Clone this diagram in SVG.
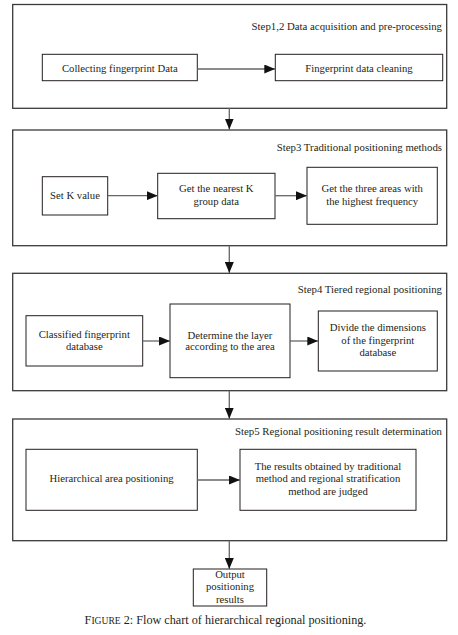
<svg xmlns="http://www.w3.org/2000/svg" width="458" height="635" viewBox="0 0 458 635">
<style>
.frame{fill:#fff;stroke:#3a3a3a;stroke-width:1.3}
.box{fill:#fff;stroke:#231f20;stroke-width:1}
.t{font-family:"Liberation Serif","Times New Roman",serif;font-size:10.7px;fill:#231f20;text-anchor:middle}
.st{font-family:"Liberation Serif","Times New Roman",serif;font-size:10.8px;fill:#231f20;text-anchor:end}
.cap{font-family:"Liberation Serif","Times New Roman",serif;font-size:12.2px;fill:#231f20;text-anchor:middle}
.con{fill:none;stroke:#666;stroke-width:1.3}
</style>
<defs>
<marker id="ah" markerUnits="userSpaceOnUse" markerWidth="11" markerHeight="9" refX="11" refY="4.5" orient="auto">
<path d="M0,0 L11,4.5 L0,9 z" fill="#111"/>
</marker>
</defs>
<rect width="458" height="635" fill="#fff"/>

<g id="step12">
<rect class="frame" x="12.7" y="4.5" width="434" height="103.8"/>
<text class="st" x="442" y="29.5">Step1,2 Data acquisition and pre-processing</text>
</g>
<g id="step3">
<rect class="frame" x="12.7" y="130" width="434" height="115.7"/>
<text class="st" x="442" y="150.8">Step3 Traditional positioning methods</text>
</g>
<g id="step4">
<rect class="frame" x="12.7" y="273.3" width="434" height="117.4"/>
<text class="st" x="442" y="293">Step4 Tiered regional positioning</text>
</g>
<g id="step5">
<rect class="frame" x="12.7" y="419" width="434" height="121.7"/>
<text class="st" x="442" y="434.5">Step5 Regional positioning result determination</text>
</g>

<g id="collect">
<rect class="box" x="42.3" y="54.3" width="155" height="26.4"/>
<text class="t" x="119.8" y="71.5">Collecting fingerprint Data</text>
</g>
<g id="cleaning">
<rect class="box" x="275.3" y="54.3" width="167.4" height="26.4"/>
<text class="t" x="359" y="71.5">Fingerprint data cleaning</text>
</g>

<g id="setk">
<rect class="box" x="42.3" y="176.7" width="65.4" height="38.3"/>
<text class="t" x="75" y="199">Set K value</text>
</g>
<g id="nearest">
<rect class="box" x="157.7" y="173.3" width="117.3" height="45.4"/>
<text class="t" x="216.3" y="191.8">Get the nearest K</text>
<text class="t" x="216.3" y="205.2">group data</text>
</g>
<g id="three">
<rect class="box" x="307" y="167.3" width="130.3" height="57"/>
<text class="t" x="372.2" y="191.8">Get the three areas with</text>
<text class="t" x="372.2" y="205.2">the highest frequency</text>
</g>

<g id="classified">
<rect class="box" x="26" y="315.7" width="116.7" height="50.3"/>
<text class="t" x="84.3" y="337.8">Classified fingerprint</text>
<text class="t" x="84.3" y="349.8">database</text>
</g>
<g id="determine">
<rect class="box" x="170" y="304" width="120" height="73.7"/>
<text class="t" x="230" y="338.5">Determine the layer</text>
<text class="t" x="230" y="350.2">according to the area</text>
</g>
<g id="divide">
<rect class="box" x="318.3" y="311" width="119" height="60"/>
<text class="t" x="377.8" y="330.8">Divide the dimensions</text>
<text class="t" x="377.8" y="343.8">of the fingerprint</text>
<text class="t" x="377.8" y="356.2">database</text>
</g>

<g id="hier">
<rect class="box" x="26" y="449.3" width="171.3" height="61"/>
<text class="t" x="111.6" y="481.8">Hierarchical area positioning</text>
</g>
<g id="results">
<rect class="box" x="240" y="449.3" width="176" height="61"/>
<text class="t" x="328" y="470.2">The results obtained by traditional</text>
<text class="t" x="328" y="481.8">method and regional stratification</text>
<text class="t" x="328" y="495.2">method are judged</text>
</g>

<g id="output">
<rect class="box" x="193.3" y="569" width="73.4" height="37"/>
<text class="t" x="230" y="577.8">Output</text>
<text class="t" x="230" y="590.2">positioning</text>
<text class="t" x="230" y="602.8">results</text>
</g>

<g id="connectors">
<line class="con" x1="197.3" y1="69" x2="275.3" y2="69" marker-end="url(#ah)"/>
<line class="con" x1="229.3" y1="108.3" x2="229.3" y2="129.5" marker-end="url(#ah)"/>
<line class="con" x1="107.7" y1="195.7" x2="157.7" y2="195.7" marker-end="url(#ah)"/>
<line class="con" x1="275" y1="195.7" x2="307" y2="195.7" marker-end="url(#ah)"/>
<line class="con" x1="229.3" y1="245.7" x2="229.3" y2="273" marker-end="url(#ah)"/>
<line class="con" x1="142.7" y1="341" x2="170" y2="341" marker-end="url(#ah)"/>
<line class="con" x1="290" y1="341" x2="318.3" y2="341" marker-end="url(#ah)"/>
<line class="con" x1="229.3" y1="390.7" x2="229.3" y2="418.7" marker-end="url(#ah)"/>
<line class="con" x1="197.3" y1="480" x2="240" y2="480" marker-end="url(#ah)"/>
<line class="con" x1="229.3" y1="540.7" x2="229.3" y2="569" marker-end="url(#ah)"/>
</g>

<text class="cap" x="225.5" y="624">F<tspan font-size="9.6">IGURE</tspan> 2: Flow chart of hierarchical regional positioning.</text>
</svg>
